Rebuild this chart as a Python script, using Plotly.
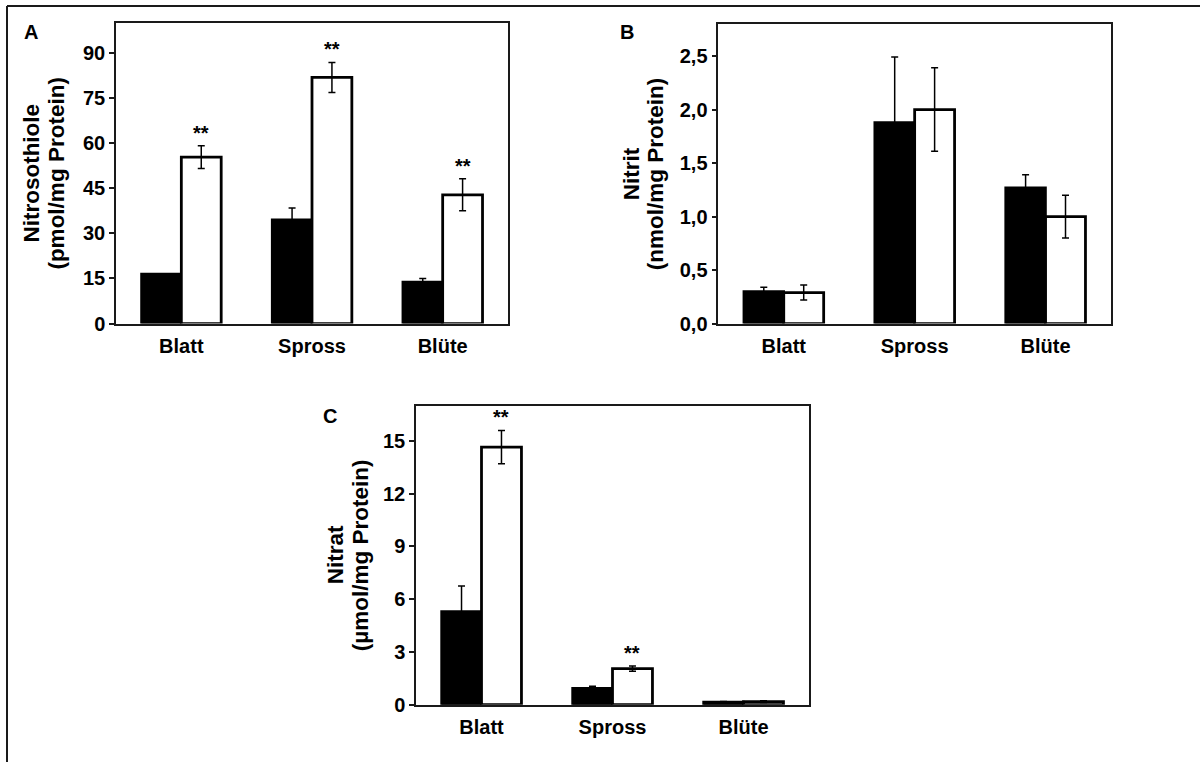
import plotly.graph_objects as go

# ---------------- data ----------------
categories = ["Blatt", "Spross", "Blüte"]

# Panel A: Nitrosothiole (pmol/mg Protein)
a_black = [16.5, 34.5, 13.8]
a_black_err = [0.0, 3.9, 1.2]
a_white = [55.3, 81.8, 42.8]
a_white_err = [3.8, 5.0, 5.3]
a_sig = ["**", "**", "**"]
a_ticks = [0, 15, 30, 45, 60, 75, 90]

# Panel B: Nitrit (nmol/mg Protein)
b_black = [0.30, 1.88, 1.27]
b_black_err = [0.04, 0.61, 0.12]
b_white = [0.29, 2.00, 1.00]
b_white_err = [0.07, 0.39, 0.20]
b_sig = ["", "", ""]
b_ticks = [0.0, 0.5, 1.0, 1.5, 2.0, 2.5]

# Panel C: Nitrat (µmol/mg Protein)
c_black = [5.3, 0.93, 0.15]
c_black_err = [1.45, 0.12, 0.03]
c_white = [14.65, 2.05, 0.17]
c_white_err = [0.95, 0.15, 0.05]
c_sig = ["**", "**", ""]
c_ticks = [0, 3, 6, 9, 12, 15]

W, H = 1200, 762
FONT = "Liberation Sans, Arial, sans-serif"


def px_x(p):
    return p / W


def px_y(p):
    return 1 - p / H


fig = go.Figure()

panels = [
    dict(ax="", black=a_black, berr=a_black_err, white=a_white, werr=a_white_err, sig=a_sig,
         ticks=a_ticks, rng=[0, 100], fmt="d",
         dom_x=[116, 508], dom_y=[23, 328.3],
         title=["Nitrosothiole", "(pmol/mg Protein)"], tx=[31.5, 56.5],
         letter="A", lx=31, ly=32),
    dict(ax="2", black=b_black, berr=b_black_err, white=b_white, werr=b_white_err, sig=b_sig,
         ticks=b_ticks, rng=[0, 2.8], fmt=".1f",
         dom_x=[718.3, 1111], dom_y=[24.3, 328.3],
         title=["Nitrit", "(nmol/mg Protein)"], tx=[631.5, 655.5],
         letter="B", lx=627, ly=32),
    dict(ax="3", black=c_black, berr=c_black_err, white=c_white, werr=c_white_err, sig=c_sig,
         ticks=c_ticks, rng=[0, 17], fmt="d",
         dom_x=[416, 809], dom_y=[411.7, 715],
         title=["Nitrat", "(µmol/mg Protein)"], tx=[335, 360],
         letter="C", lx=330, ly=422),
]

BARGAP = 0.39

for p in panels:
    xa = "x" + p["ax"]
    ya = "y" + p["ax"]
    err_style = dict(type="data", thickness=1.5, width=3.5, color="black")
    fig.add_trace(go.Bar(
        x=categories, y=p["black"], xaxis=xa, yaxis=ya,
        marker=dict(color="black", line=dict(color="black", width=2.5)),
        error_y=dict(array=p["berr"], **err_style), showlegend=False,
    ))
    fig.add_trace(go.Bar(
        x=categories, y=p["white"], xaxis=xa, yaxis=ya,
        marker=dict(color="white", line=dict(color="black", width=2.8)),
        error_y=dict(array=p["werr"], **err_style), showlegend=False,
    ))

    axis_common = dict(showline=True, linecolor="#1a1a1a", linewidth=1.5, mirror=True,
                       showgrid=False, zeroline=False)
    fig.layout["xaxis" + p["ax"]] = dict(
        domain=[px_x(p["dom_x"][0]), px_x(p["dom_x"][1])],
        anchor=ya, ticks="", type="category",
        tickfont=dict(family=FONT, size=20, color="black", weight="bold"),
        ticklabelstandoff=4,
        **axis_common,
    )
    fig.layout["yaxis" + p["ax"]] = dict(
        domain=[px_y(p["dom_y"][1]), px_y(p["dom_y"][0])],
        anchor=xa, range=p["rng"], tickvals=p["ticks"], tickformat=p["fmt"],
        ticks="outside", ticklen=5, tickwidth=1.5, tickcolor="#1a1a1a",
        tickfont=dict(family=FONT, size=20, color="black", weight="bold"),
        **axis_common,
    )

    # axis title (two lines, rotated)
    for line, tx in zip(p["title"], p["tx"]):
        fig.add_annotation(
            text=line, textangle=-90, xref="paper", yref="paper",
            x=px_x(tx), y=px_y((p["dom_y"][0] + p["dom_y"][1]) / 2),
            xanchor="center", yanchor="middle", showarrow=False,
            font=dict(family=FONT, size=22.5, color="black", weight="bold"),
        )
    # panel letter
    fig.add_annotation(
        text=p["letter"], xref="paper", yref="paper",
        x=px_x(p["lx"]), y=px_y(p["ly"]), xanchor="center", yanchor="middle",
        showarrow=False, font=dict(family=FONT, size=20, color="black", weight="bold"),
    )
    # significance marks above white bars
    cat_px = (p["dom_x"][1] - p["dom_x"][0]) / len(categories)
    shift = cat_px * (1 - BARGAP) / 4
    for cat, val, err, s in zip(categories, p["white"], p["werr"], p["sig"]):
        if s:
            fig.add_annotation(
                text=s, x=cat, y=val + err, xref=xa, yref=ya,
                xanchor="center", yanchor="bottom", xshift=shift, yshift=0,
                showarrow=False,
                font=dict(family=FONT, size=20, color="black", weight="bold"),
            )

# outer frame lines (top and left)
fig.add_shape(type="line", xref="paper", yref="paper",
              x0=px_x(7), x1=1, y0=px_y(6), y1=px_y(6),
              line=dict(color="#1a1a1a", width=2))
fig.add_shape(type="line", xref="paper", yref="paper",
              x0=px_x(7), x1=px_x(7), y0=px_y(6), y1=-0.05,
              line=dict(color="#1a1a1a", width=2))

fig.update_layout(
    width=W, height=H, margin=dict(l=0, r=0, t=0, b=0),
    paper_bgcolor="white", plot_bgcolor="white",
    barmode="group", bargap=BARGAP, bargroupgap=0,
    separators=",.", showlegend=False,
    font=dict(family=FONT, color="black"),
)

page_css = (
    "var s=document.createElement('style');"
    "s.innerHTML='html,body{margin:0;padding:0;height:762px;overflow:hidden;}';"
    "document.head.appendChild(s);"
)
fig.write_html("out.html", post_script=page_css, config={"displayModeBar": False})
